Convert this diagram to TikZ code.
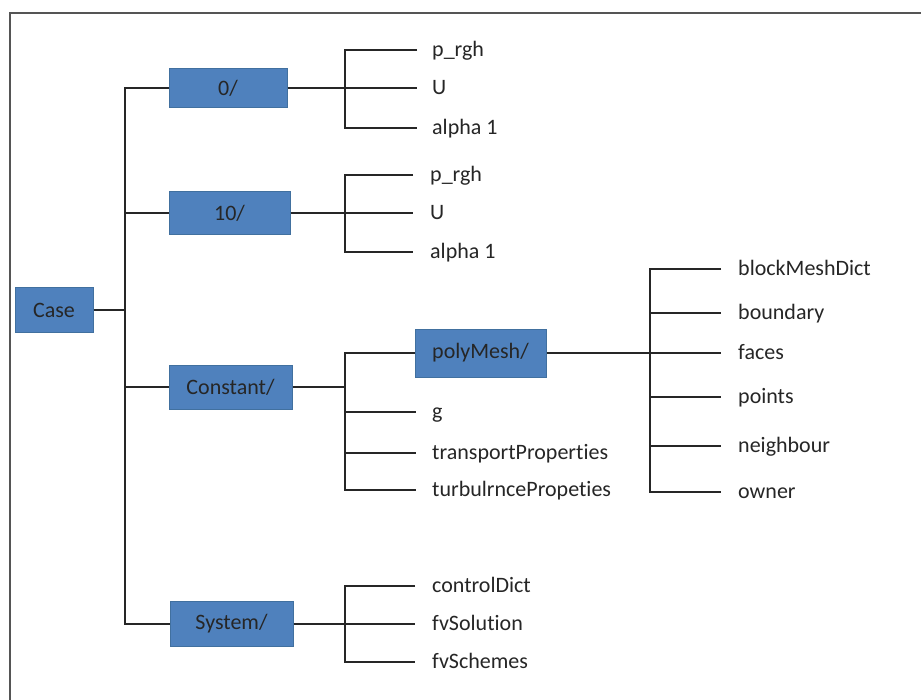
\documentclass[tikz,border=0pt]{standalone}
\usepackage{fontspec}
\setmainfont{Carlito}[Ligatures={NoCommon}]
\definecolor{boxblue}{HTML}{4F81BD}
\definecolor{boxedge}{HTML}{41709F}
\definecolor{framegray}{HTML}{555555}
\begin{document}
\begin{tikzpicture}[x=1pt,y=-1pt,
  dirbox/.style={draw=boxedge,line width=1pt,fill=boxblue,inner sep=0pt,text=black!85,
    font=\fontsize{22}{26}\selectfont},
  leaf/.style={anchor=west,inner sep=0pt,text=black!85,text height=14.5pt,text depth=2pt,
    font=\fontsize{22}{26}\selectfont},
  conn/.style={line width=1.6pt,black!85}]
\useasboundingbox (0,0) rectangle (921,699);
\fill[white] (0,0) rectangle (921,699);
\draw[framegray,line width=2pt] (921,13) -- (10,13) -- (10,700);

% directory boxes
\node[dirbox,minimum width=78pt,minimum height=45pt] (case) at (54,310) {Case};
\node[dirbox,minimum width=118pt,minimum height=39pt] (zero) at (228,88) {0/};
\node[dirbox,minimum width=121pt,minimum height=43pt] (ten) at (229.5,213) {10/};
\node[dirbox,minimum width=123pt,minimum height=44pt] (const) at (230.5,387) {Constant/};
\node[dirbox,minimum width=123pt,minimum height=45pt] (sys) at (231.5,624) {System/};
\node[dirbox,minimum width=131pt,minimum height=48pt] (poly) at (480.5,353) {polyMesh/};

% trunk
\coordinate (tr) at (125,0);
\draw[conn] (zero.west) -- (zero.west -| tr) -- (sys.west -| tr) -- (sys.west);
\draw[conn] (ten.west) -- (ten.west -| tr);
\draw[conn] (const.west) -- (const.west -| tr);
\draw[conn] (case.east) -- (case.east -| tr);

\coordinate (br) at (345,0);
\coordinate (bp) at (650,0);

% 0/
\node[leaf] (z1) at (432,50) {p\_rgh};
\node[leaf] (z2) at (432,88) {U};
\node[leaf] (z3) at (432,128) {alpha 1};
\draw[conn] ([xshift=-15pt]z1.west) -| (br |- z3.west) -- ([xshift=-15pt]z3.west);
\draw[conn] (zero.east) -- ([xshift=-15pt]z2.west);

% 10/
\node[leaf] (t1) at (430,175) {p\_rgh};
\node[leaf] (t2) at (430,213) {U};
\node[leaf] (t3) at (430,252) {alpha 1};
\draw[conn] ([xshift=-17pt]t1.west) -| (br |- t3.west) -- ([xshift=-17pt]t3.west);
\draw[conn] (ten.east) -- ([xshift=-17pt]t2.west);

% Constant/
\node[leaf] (c1) at (432,412) {g};
\node[leaf] (c2) at (432,453) {transportProperties};
\node[leaf] (c3) at (432,490) {turbulrncePropeties};
\draw[conn] (const.east) -- (const.east -| br);
\draw[conn] (poly.west) -| (br |- c3.west) -- ([xshift=-16pt]c3.west);
\draw[conn] (c1.west -| br) -- ([xshift=-16pt]c1.west);
\draw[conn] (c2.west -| br) -- ([xshift=-16pt]c2.west);

% polyMesh/
\node[leaf] (p1) at (738,269) {blockMeshDict};
\node[leaf] (p2) at (738,313) {boundary};
\node[leaf] (p3) at (738,353) {faces};
\node[leaf] (p4) at (738,397) {points};
\node[leaf] (p5) at (738,446) {neighbour};
\node[leaf] (p6) at (738,492) {owner};
\draw[conn] ([xshift=-17pt]p1.west) -| (bp |- p6.west) -- ([xshift=-17pt]p6.west);
\draw[conn] (poly.east) -- ([xshift=-17pt]p3.west);
\draw[conn] (p2.west -| bp) -- ([xshift=-17pt]p2.west);
\draw[conn] (p4.west -| bp) -- ([xshift=-17pt]p4.west);
\draw[conn] (p5.west -| bp) -- ([xshift=-17pt]p5.west);

% System/
\node[leaf] (s1) at (432,586) {controlDict};
\node[leaf] (s2) at (432,624) {fvSolution};
\node[leaf] (s3) at (432,662) {fvSchemes};
\draw[conn] ([xshift=-17pt]s1.west) -| (br |- s3.west) -- ([xshift=-17pt]s3.west);
\draw[conn] (sys.east) -- ([xshift=-17pt]s2.west);
\end{tikzpicture}
\end{document}
